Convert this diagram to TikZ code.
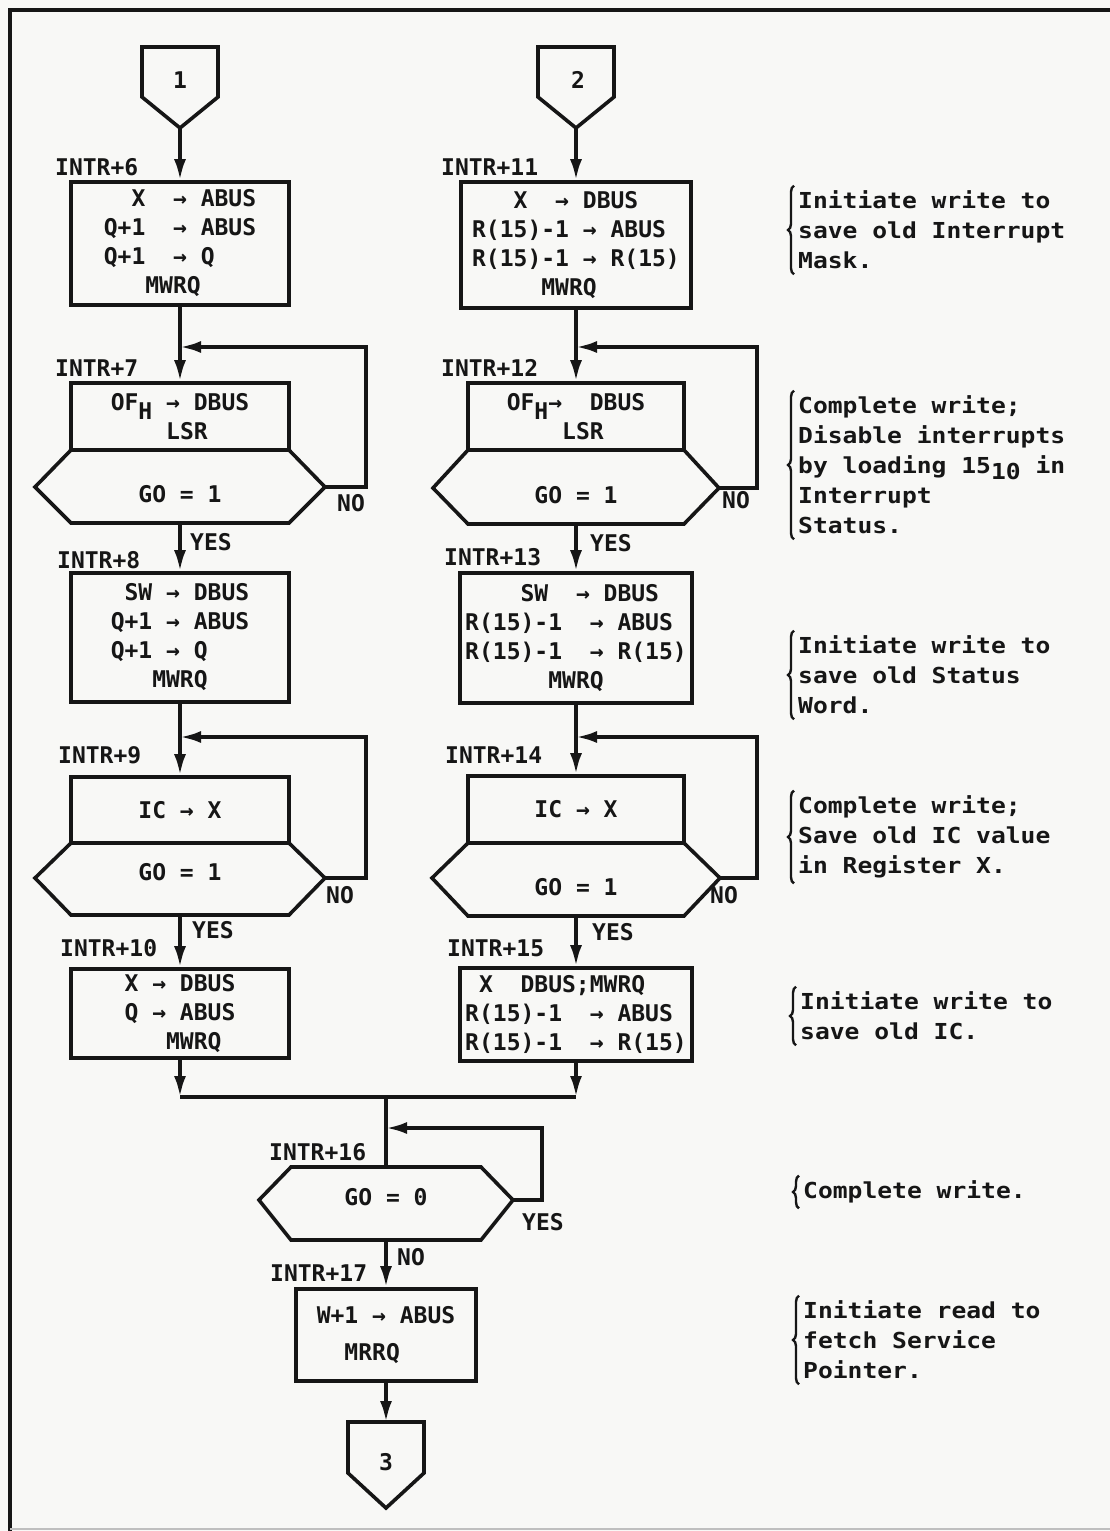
\documentclass[tikz,border=0pt]{standalone}
\usepackage{fontspec}
\usetikzlibrary{arrows.meta,decorations.pathreplacing}
\newfontfamily\chartfont{DejaVu Sans Mono}
\newfontfamily\notefont[FakeStretch=1.12]{DejaVu Sans Mono}
\newcommand\low[1]{\smash{\raisebox{-9pt}{#1}}}
\definecolor{paper}{RGB}{248,248,246}
\definecolor{ink}{RGB}{22,22,22}

\begin{document}
\begin{tikzpicture}[x=1pt,y=-1pt,ink]
  \tikzset{
    op/.style={draw,line width=3.6pt,inner sep=0pt,align=left,font=\chartfont\bfseries\fontsize{23}{29}\selectfont,minimum width=#1},
    tag/.style={anchor=west,inner sep=0pt,font=\chartfont\bfseries\fontsize{23}{28}\selectfont},
    note/.style={anchor=west,inner xsep=0pt,inner ysep=5pt,align=left,font=\notefont\bfseries\fontsize{22}{30}\selectfont},
    flow/.style={-{Latex[length=21pt,width=12pt]},line width=3.6pt},
    wire/.style={line width=3.6pt,line join=miter},
    cbrace/.style={decorate,decoration={brace,amplitude=6pt},line width=2.4pt}
  }
  \useasboundingbox (0,0) rectangle (1110,1531);
  \fill[paper] (0,0) rectangle (1110,1531);
  \draw[line width=4pt] (10,1531) -- (10,10) -- (1110,10);
  \draw[gray!50,line width=1.5pt] (10,1529) -- (1110,1529);

  % left column
  \draw[wire] (142,47) -- (218,47) -- (218,97) -- (180,128) coordinate (p1s) -- (142,97) -- cycle;
  \node[tag,anchor=center] (p1) at (180,80) {1};
  \node[op=218pt,minimum height=123pt] (b6) at (180,243.5) {\hphantom{00}X~~→~ABUS\\Q+1~~→~ABUS\\Q+1~~→~Q\\\hphantom{000}MWRQ};
  \node[tag] (l6) at (55,167) {INTR+6};
  \node[op=218pt,minimum height=67pt] (b7) at (180,416.5) {OF\low{H}~→~DBUS\\\hphantom{0000}LSR};
  \node[tag] (l7) at (55,368) {INTR+7};
  \draw[wire] (71,450) -- (289,450) -- (325,487) coordinate (n7) -- (289,523) -- (71,523) -- (35,487) -- cycle;
  \node[tag,anchor=center] (d7) at (180,494) {GO~=~1};
  \coordinate (s7) at (180,523);
  \coordinate (j7) at (180,347);
  \node[tag] (no7) at (337,503) {NO};
  \node[tag] (yes7) at (190,542) {YES};
  \node[op=218pt,minimum height=129pt] (b8) at (180,637.5) {\hphantom{0}SW~→~DBUS\\Q+1~→~ABUS\\Q+1~→~Q\\\hphantom{000}MWRQ};
  \node[tag] (l8) at (57,560) {INTR+8};
  \node[op=218pt,minimum height=66pt] (b9) at (180,810) {IC~→~X};
  \node[tag] (l9) at (58,755) {INTR+9};
  \draw[wire] (71,843) -- (289,843) -- (325,878) coordinate (n9) -- (289,915) -- (71,915) -- (35,878) -- cycle;
  \node[tag,anchor=center] (d9) at (180,872) {GO~=~1};
  \coordinate (s9) at (180,915);
  \coordinate (j9) at (180,737);
  \node[tag] (no9) at (326,895) {NO};
  \node[tag] (yes9) at (192,930) {YES};
  \node[op=218pt,minimum height=89pt] (b10) at (180,1013.5) {X~→~DBUS\\Q~→~ABUS\\\hphantom{000}MWRQ};
  \node[tag] (l10) at (60,948) {INTR+10};

  % right column
  \draw[wire] (538,47) -- (614,47) -- (614,97) -- (576,128) coordinate (p2s) -- (538,97) -- cycle;
  \node[tag,anchor=center] (p2) at (578,80) {2};
  \node[op=230pt,minimum height=126pt] (b11) at (576,245) {\hphantom{000}X~~→~DBUS\\R(15)-1~→~ABUS\\R(15)-1~→~R(15)\\\hphantom{00000}MWRQ};
  \node[tag] (l11) at (441,167) {INTR+11};
  \node[op=216pt,minimum height=67pt] (b12) at (576,416.5) {OF\low{H}→~~DBUS\\\hphantom{0000}LSR};
  \node[tag] (l12) at (441,368) {INTR+12};
  \draw[wire] (468,450) -- (684,450) -- (719,488) coordinate (n12) -- (684,524) -- (468,524) -- (433,488) -- cycle;
  \node[tag,anchor=center] (d12) at (576,495) {GO~=~1};
  \coordinate (s12) at (576,524);
  \coordinate (j12) at (576,347);
  \node[tag] (no12) at (722,500) {NO};
  \node[tag] (yes12) at (590,543) {YES};
  \node[op=232pt,minimum height=130pt] (b13) at (576,638) {\hphantom{0000}SW~~→~DBUS\\R(15)-1~~→~ABUS\\R(15)-1~~→~R(15)\\\hphantom{000000}MWRQ};
  \node[tag] (l13) at (444,557) {INTR+13};
  \node[op=216pt,minimum height=67pt] (b14) at (576,809.5) {IC~→~X};
  \node[tag] (l14) at (445,755) {INTR+14};
  \draw[wire] (468,843) -- (684,843) -- (720,878) coordinate (n14) -- (684,916) -- (468,916) -- (432,878) -- cycle;
  \node[tag,anchor=center] (d14) at (576,887) {GO~=~1};
  \coordinate (s14) at (576,916);
  \coordinate (j14) at (576,737);
  \node[tag] (no14) at (710,895) {NO};
  \node[tag] (yes14) at (592,932) {YES};
  \node[op=232pt,minimum height=93pt] (b15) at (576,1014.5) {\hphantom{0}X~~DBUS;MWRQ\\R(15)-1~~→~ABUS\\R(15)-1~~→~R(15)};
  \node[tag] (l15) at (447,948) {INTR+15};

  % join and exit
  \coordinate (mL) at (180,1097);
  \coordinate (mR) at (576,1097);
  \coordinate (mJ) at (386,1097);
  \coordinate (t16) at (386,1167);
  \draw[wire] (291,1167) -- (481,1167) -- (513,1200) coordinate (n16) -- (481,1240) -- (291,1240) -- (259,1200) -- cycle;
  \node[tag,anchor=center] (d16) at (386,1197) {GO~=~0};
  \coordinate (s16) at (386,1240);
  \coordinate (j16) at (386,1128);
  \node[tag] (l16) at (269,1152) {INTR+16};
  \node[tag] (yes16) at (522,1222) {YES};
  \node[tag] (no16) at (397,1257) {NO};
  \node[op=180pt,minimum height=92pt,font=\chartfont\bfseries\fontsize{23}{37}\selectfont] (b17) at (386,1335) {W+1~→~ABUS\\\hphantom{00}MRRQ};
  \node[tag] (l17) at (270,1273) {INTR+17};
  \draw[wire] (348,1422) -- (424,1422) -- (424,1473) -- (386,1508) -- (348,1473) -- cycle;
  \coordinate (p3n) at (386,1422);
  \node[tag,anchor=center] (p3) at (386,1462) {3};

  % connectors
  \draw[flow] (p1s) -- (b6);
  \draw[flow] (b6) -- (b7);
  \draw[flow] (n7) -- ++(41,0) |- (j7);
  \draw[flow] (s7) -- (b8);
  \draw[flow] (b8) -- (b9);
  \draw[flow] (n9) -- ++(41,0) |- (j9);
  \draw[flow] (s9) -- (b10);
  \draw[flow] (b10) -- (mL);
  \draw[flow] (p2s) -- (b11);
  \draw[flow] (b11) -- (b12);
  \draw[flow] (n12) -- ++(38,0) |- (j12);
  \draw[flow] (s12) -- (b13);
  \draw[flow] (b13) -- (b14);
  \draw[flow] (n14) -- ++(37,0) |- (j14);
  \draw[flow] (s14) -- (b15);
  \draw[flow] (b15) -- (mR);
  \draw[wire] (mL) -- (mR);
  \draw[wire] (mJ) -- (t16);
  \draw[flow] (n16) -- ++(29,0) |- (j16);
  \draw[flow] (s16) -- (b17);
  \draw[flow] (b17) -- (p3n);

  % comments
  \node[note] (c1) at (798,230) {Initiate write to\\save old Interrupt\\Mask.};
  \node[note] (c2) at (798,465) {Complete write;\\Disable interrupts\\by loading 15\smash{\raisebox{-6pt}{10}} in\\Interrupt\\Status.};
  \node[note] (c3) at (798,675) {Initiate write to\\save old Status\\Word.};
  \node[note] (c4) at (798,837) {Complete write;\\Save old IC value\\in Register X.};
  \node[note] (c5) at (800,1016) {Initiate write to\\save old IC.};
  \node[note] (c6) at (803,1192) {Complete write.};
  \node[note] (c7) at (803,1340) {Initiate read to\\fetch Service\\Pointer.};
  \foreach \c in {c1,c2,c3,c4,c5,c6,c7}
    \draw[cbrace] ([xshift=-4pt]\c.south west) -- ([xshift=-4pt]\c.north west);
\end{tikzpicture}
\end{document}
